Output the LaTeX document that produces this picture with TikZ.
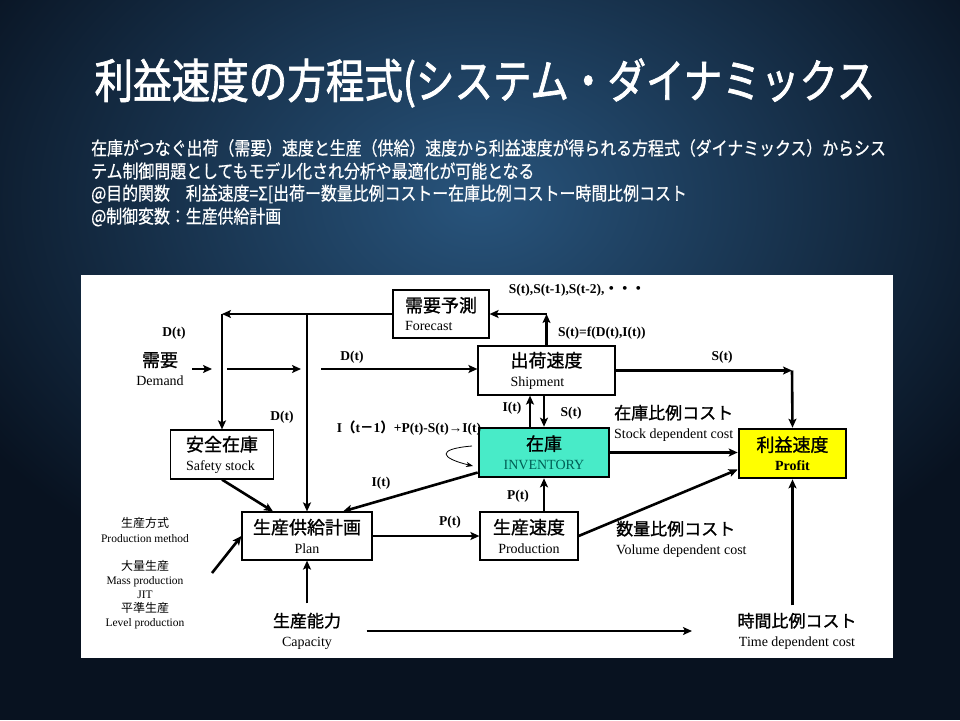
\documentclass[tikz,border=0pt]{standalone}
\usepackage{fontspec}
\setmainfont{Liberation Serif}
\newfontfamily\jp{Noto Sans CJK JP}
\newfontfamily\jpm[FakeBold=1.2]{Noto Sans CJK JP}
\newfontfamily\jptitle[FakeStretch=0.82, FakeBold=1.5]{Noto Sans CJK JP}
\newfontfamily\jpsub[FakeStretch=0.86, FakeBold=0.6]{Noto Sans CJK JP}
\usetikzlibrary{arrows.meta, positioning, calc}
\definecolor{bgdark}{RGB}{8,18,32}
\definecolor{bglight}{RGB}{40,84,124}
\definecolor{invcolor}{RGB}{72,235,200}
\definecolor{invtext}{RGB}{0,95,85}
\definecolor{profitcolor}{RGB}{255,255,0}
\newcommand{\jpbox}{\jpm\fontsize{18}{20}\selectfont}
\newcommand{\jpmid}{\jpm\fontsize{17}{19}\selectfont}
\newcommand{\enbox}{\fontsize{14}{16}\selectfont}
\newcommand{\jpsmall}{\jp\fontsize{12}{14}\selectfont}
\newcommand{\ensmall}{\fontsize{11.5}{14}\selectfont}

\begin{document}
\begin{tikzpicture}[x=1pt, y=-1pt,
    twoline/.style={font=\fontsize{14}{19}\selectfont},
    box/.style={draw, fill=white, line width=1.2pt, minimum width=#1, minimum height=48pt, inner sep=1pt, twoline},
    boldbox/.style={box=#1, line width=2.6pt},
    arr/.style={-{Stealth[length=9pt, width=8pt, inset=2pt]}, line width=2.6pt},
    lbl/.style={font=\bfseries\fontsize{13.5}{15}\selectfont, inner sep=0pt},
    subline/.style={anchor=west, text=white, inner sep=0pt, font=\jpsub\fontsize{18.5}{20}\selectfont}]
    \useasboundingbox (0,0) rectangle (960,720);

    % Background
    \begin{scope}
        \clip (0,0) rectangle (960,720);
        \fill[bgdark] (0,0) rectangle (960,720);
        \shade[inner color=bglight, outer color=bgdark] (480,200) ellipse (600 and 430);
    \end{scope}

    % Title and text
    \node[text=white, inner sep=0pt, font=\jptitle\fontsize{47}{50}\selectfont] (title) at (485,83) {利益速度の方程式(システム・ダイナミックス};
    \node[subline] (line1) at (91,148) {在庫がつなぐ出荷（需要）速度と生産（供給）速度から利益速度が得られる方程式（ダイナミックス）からシス};
    \node[subline] (line2) at (91,171) {テム制御問題としてもモデル化され分析や最適化が可能となる};
    \node[subline] (line3) at (91,194) {@目的関数　利益速度=Σ[出荷ー数量比例コストー在庫比例コストー時間比例コスト};
    \node[subline] (line4) at (91,217) {@制御変数：生産供給計画};

    % Diagram panel
    \fill[white] (81,275) rectangle (893,658);

    % Boxes
    \node[box=96pt, align=left] (fc) at (441,314) {{\jpbox 需要予測}\\{\enbox Forecast}};
    \node[box=137pt, minimum height=49pt, align=left] (ship) at (546.5,370.5) {{\jpbox 出荷速度}\\{\enbox Shipment}};
    \node[boldbox=130pt, minimum height=49pt, fill=invcolor, align=center] (inv) at (544,452.5) {{\jpbox 在庫}\\{\enbox\color{invtext} INVENTORY}};
    \node[box=103pt, minimum height=49pt, align=left] (safe) at (222,454.5) {{\jpbox 安全在庫}\\{\enbox Safety stock}};
    \node[box=130pt, align=center] (plan) at (307,536) {{\jpbox 生産供給計画}\\{\enbox Plan}};
    \node[box=98pt, align=center] (prod) at (529,536) {{\jpbox 生産速度}\\{\enbox Production}};
    \node[boldbox=107pt, minimum height=49pt, fill=profitcolor, align=center] (profit) at (792.5,453.5) {{\jpbox 利益速度}\\{\enbox\bfseries Profit}};

    % Plain texts
    \node[twoline, align=center] (dem) at (160,369) {{\jpbox 需要}\\{\enbox Demand}};
    \node[twoline, align=center] (cap) at (307,631) {{\jpmid 生産能力}\\{\enbox Capacity}};
    \node[twoline, align=center] (tc) at (797,631) {{\jpmid 時間比例コスト}\\{\enbox Time dependent cost}};
    \node[twoline, anchor=west, align=left, inner sep=0pt] (sc) at (614,423) {{\jpmid 在庫比例コスト}\\{\enbox Stock dependent cost}};
    \node[twoline, anchor=west, align=left, inner sep=0pt] (vc) at (616,539) {{\jpmid 数量比例コスト}\\{\enbox Volume dependent cost}};
    \node[align=center, inner sep=0pt, font=\fontsize{12}{14.5}\selectfont] (meth) at (145,530) {{\jpsmall 生産方式}\\{\ensmall Production method}};
    \node[align=center, inner sep=0pt, font=\fontsize{12}{14}\selectfont] (kinds) at (145,595) {{\jpsmall 大量生産}\\{\ensmall Mass production}\\{\ensmall JIT}\\{\jpsmall 平準生産}\\{\ensmall Level production}};

    % Free ends
    \coordinate (fl) at (222,314);
    \coordinate (d1) at (192,369);
    \coordinate (d2) at (212,369);
    \coordinate (d3) at (227,369);
    \coordinate (d4) at (301,369);
    \coordinate (d5) at (321,369);
    \coordinate (sk) at (792,370.5);
    \coordinate (pm) at (212,573);

    % Forecast loop
    \draw[arr] (ship.north) -- (ship.north |- fc.east);
    \draw[arr] (ship.north |- fc.east) -- (fc.east);
    \draw[arr] (fc.west) -- (fl);
    \draw[arr] (fl) -- (safe.north);
    \draw[arr] (fl -| plan) -- (plan.north);

    % Demand
    \draw[arr] (d1) -- (d2);
    \draw[arr] (d3) -- (d4);
    \draw[arr] (d5) -- (d5 -| ship.west);

    % Shipment, inventory, production
    \draw[arr] ([xshift=-14pt]inv.north) -- ([xshift=-14pt]inv.north |- ship.south);
    \draw[arr] (inv.north |- ship.south) -- (inv.north);
    \draw[arr] (inv.south |- prod.north) -- (inv.south);
    \draw[arr] (plan.east) -- (prod.west);
    \draw[arr] ([yshift=-20pt]inv.west) -- ([xshift=36pt]plan.north);
    \draw[arr] (safe.south) -- ([xshift=-34pt]plan.north);
    \draw[arr] (pm) -- (plan.west);
    \draw[arr] ([yshift=6pt]cap.north) -- (plan.south);
    \draw[-{Stealth[length=7pt]}, line width=0.8pt] (472,446) .. controls (436,449) and (440,458) .. (473,466);

    % Profit
    \draw[arr] (ship.east) -- (sk);
    \draw[arr] (sk) -- (profit.north);
    \draw[arr] (inv.east) -- (inv.east -| profit.west);
    \draw[arr] (prod.east) -- ([yshift=-16pt]profit.west);
    \draw[arr] ([yshift=4pt]tc.north -| profit) -- (profit.south);
    \draw[arr, shorten <=22pt, shorten >=42pt] (cap) -- (tc);

    % Labels
    \node[lbl] (ld1) at (174,333) {D(t)};
    \node[lbl] (ld2) at (352,357) {D(t)};
    \node[lbl] (ld3) at (282,417) {D(t)};
    \node[lbl] (li1) at (381,483) {I(t)};
    \node[lbl] (lp1) at (450,522) {P(t)};
    \node[lbl] (lp2) at (518,496) {P(t)};
    \node[lbl] (li2) at (512,408) {I(t)};
    \node[lbl] (ls1) at (571,413) {S(t)};
    \node[lbl] (ls2) at (722,357) {S(t)};
    \node[lbl, anchor=west] (lsf) at (558,333) {S(t)=f(D(t),I(t))};
    \node[lbl] (lss) at (577,290) {S(t),S(t-1),S(t-2),{\jp ・・・}};
    \node[lbl] (lin) at (409,428) {I{\jp （}t{\jp －}1{\jp ）}+P(t)-S(t)→I(t)};
\end{tikzpicture}
\end{document}
